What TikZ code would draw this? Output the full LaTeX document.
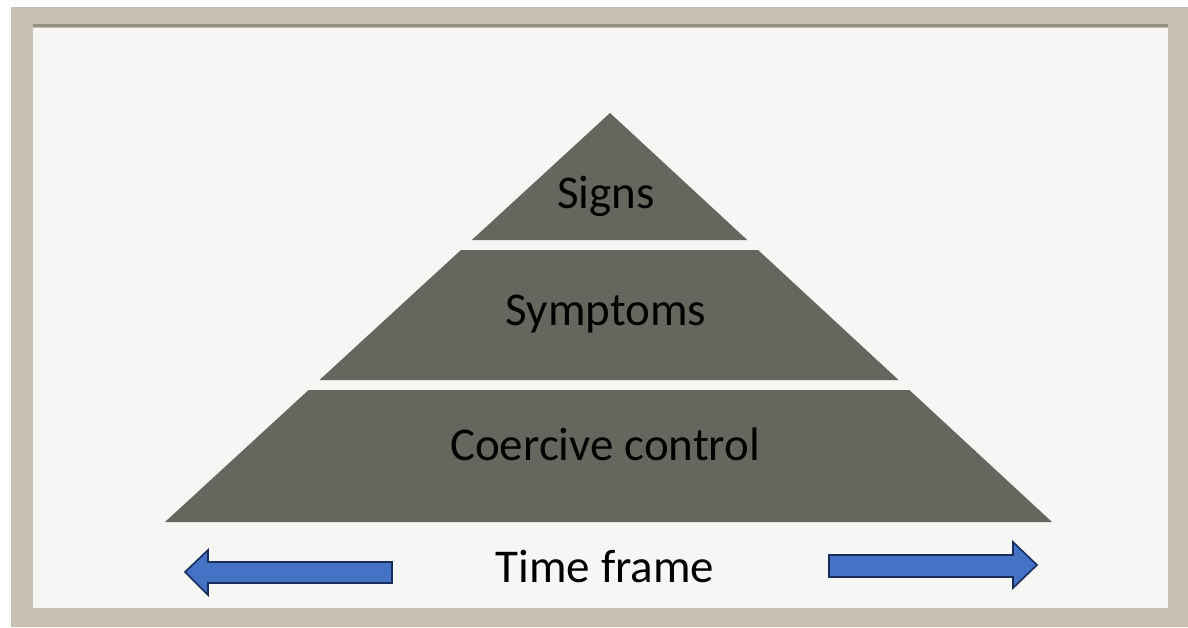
\documentclass[tikz,border=0pt]{standalone}
\usepackage{fontspec}
\setmainfont{Carlito}
\usepackage{tikz}
\usetikzlibrary{calc}
\definecolor{frametan}{RGB}{200,192,176}
\definecolor{frameshade}{RGB}{150,146,130}
\definecolor{board}{RGB}{246,246,244}
\definecolor{tier}{RGB}{102,102,95}
\definecolor{arrowblue}{RGB}{68,114,196}
\definecolor{arrowedge}{RGB}{25,45,90}
\tikzset{
    tierlabel/.style={anchor=base, text=black, font=\fontsize{47}{56}\selectfont},
    timearrow/.style={fill=arrowblue, draw=arrowedge, line width=1.6pt, line join=miter}
}

\begin{document}
\begin{tikzpicture}[x=1pt, y=-1pt]
\useasboundingbox (0,0) rectangle (1188,627);
\fill[white] (0,0) rectangle (1188,627);
% frame and board
\fill[frametan] (11,7) rectangle (1188,627);
\fill[board] (33,28) rectangle (1168,608);
\draw[frameshade, line width=3pt] (33,25) -- (1168,25);
% pyramid
\coordinate (apex) at (610,113);
\coordinate (bl) at (165,522);
\coordinate (br) at (1052,522);
\foreach \a/\b in {0/0.3105, 0.335/0.6528, 0.6773/1}{
    \fill[tier] ($(apex)!\a!(bl)$) -- ($(apex)!\a!(br)$) -- ($(apex)!\b!(br)$) -- ($(apex)!\b!(bl)$) -- cycle;
}
\node[tierlabel] (signs) at (606,208) {Signs};
\node[tierlabel] (symptoms) at (606,325) {Symptoms};
\node[tierlabel] (coercive) at (605,460) {Coercive control};
\node[tierlabel] (timeframe) at (605,582) {Time frame};
% arrows
\draw[timearrow] (392,562) -- (208,562) -- (208,550) -- (185,572) -- (208,595) -- (208,583) -- (392,583) -- cycle;
\draw[timearrow] (829,555) -- (1013,555) -- (1013,542) -- (1037,565) -- (1013,588) -- (1013,577) -- (829,577) -- cycle;
\end{tikzpicture}
\end{document}
